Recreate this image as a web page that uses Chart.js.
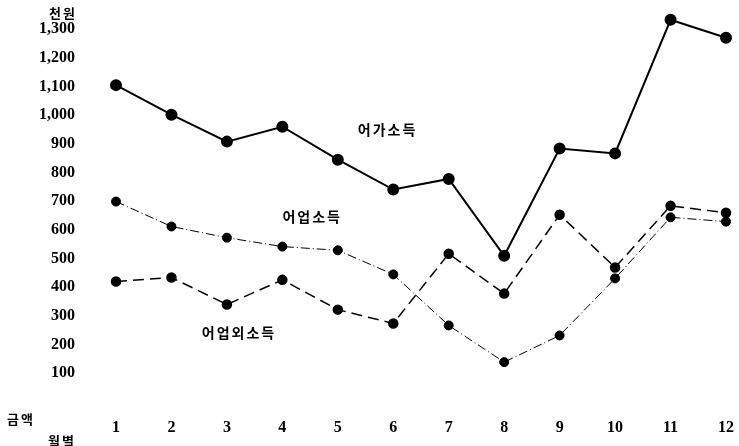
<!DOCTYPE html>
<html lang="ko">
<head>
    <meta charset="UTF-8">
    <title>월별 어가소득</title>
    <style>
        html, body { margin: 0; padding: 0; background: #fff; }
        .chart-container { width: 739px; height: 446px; }
    </style>
</head>
<body>
    <div class="chart-container">
        <canvas id="incomeChart" width="739" height="446"></canvas>
    </div>

    <script src="https://cdn.jsdelivr.net/npm/chart.js@4/dist/chart.umd.min.js"></script>
    <script>
        // 월별 (천원)
        const months = ['1', '2', '3', '4', '5', '6', '7', '8', '9', '10', '11', '12'];
        const fishHouseholdIncome = [1105, 1002, 908, 960, 845, 741, 778, 510, 884, 867, 1333, 1270];
        const fisheryIncome = [699, 612, 573, 542, 529, 445, 267, 139, 232, 431, 644, 629];
        const nonFisheryIncome = [420, 434, 340, 426, 322, 274, 517, 378, 653, 469, 684, 660];
        const yTicks = [100, 200, 300, 400, 500, 600, 700, 800, 900, 1000, 1100, 1200, 1300];

        // 선 옆에 붙는 이름 (x: 월 인덱스, y: 천원)
        const seriesNames = ['어가소득', '어업소득', '어업외소득'];
        const namePositions = [[4.88, 948], [3.52, 645], [2.2, 240]];

        const serif = "'Liberation Serif', 'DejaVu Serif', serif";
        const korean = "'Noto Sans CJK KR', sans-serif";

        // 텍스트 라벨 그리기
        const textPlugin = {
            id: 'textLabels',
            afterDraw(chart) {
                const ctx = chart.ctx;
                const x = chart.scales.x, y = chart.scales.y;
                const left = chart.chartArea.left;
                const bottom = chart.chartArea.bottom;
                ctx.save();
                ctx.fillStyle = '#000';
                ctx.textBaseline = 'middle';

                ctx.font = 'bold 14px ' + korean;
                ctx.letterSpacing = '2px';
                ctx.textAlign = 'center';
                seriesNames.forEach((name, i) => {
                    const p = namePositions[i];
                    ctx.fillText(name, x.getPixelForValue(p[0]) + 1, y.getPixelForValue(p[1]));
                });

                ctx.font = 'bold 13px ' + korean;
                ctx.letterSpacing = '2px';
                ctx.textAlign = 'right';
                ctx.fillText('천원', left - 39, y.getPixelForValue(1358));
                ctx.textAlign = 'left';
                ctx.fillText('금액', 7, bottom + 17);
                ctx.fillText('월별', 48, bottom + 39);
                ctx.restore();
            }
        };

        new Chart(document.getElementById('incomeChart'), {
            type: 'line',
            data: {
                labels: months,
                datasets: [{
                    label: '어가소득',
                    data: fishHouseholdIncome,
                    borderColor: '#000',
                    backgroundColor: '#000',
                    borderWidth: 2,
                    pointRadius: 5,
                    tension: 0
                }, {
                    label: '어업소득',
                    data: fisheryIncome,
                    borderColor: '#000',
                    backgroundColor: '#000',
                    borderWidth: 1,
                    borderDash: [9, 3, 1, 3],
                    pointRadius: 4.5,
                    tension: 0
                }, {
                    label: '어업외소득',
                    data: nonFisheryIncome,
                    borderColor: '#000',
                    backgroundColor: '#000',
                    borderWidth: 1.5,
                    borderDash: [11, 6],
                    pointRadius: 4.5,
                    tension: 0
                }]
            },
            options: {
                responsive: false,
                animation: false,
                layout: { padding: { top: 12, right: 13, bottom: 0, left: 0 } },
                plugins: {
                    legend: { display: false },
                    tooltip: { enabled: false }
                },
                scales: {
                    x: {
                        offset: false,
                        grid: { display: false, drawTicks: false },
                        border: { display: false },
                        ticks: {
                            color: '#000',
                            padding: 16,
                            maxRotation: 0,
                            font: { family: serif, size: 16, weight: 'bold' }
                        },
                        afterFit: scale => {
                            scale.height = 44;
                            scale.paddingLeft = 0;
                            scale.paddingRight = 0;
                        }
                    },
                    y: {
                        min: 0,
                        max: 1360,
                        grid: { display: false, drawTicks: false },
                        border: { display: false },
                        afterBuildTicks: scale => {
                            scale.ticks = yTicks.map(v => ({ value: v }));
                        },
                        ticks: {
                            color: '#000',
                            padding: 41,
                            font: { family: serif, size: 16, weight: 'bold' },
                            callback: v => v.toLocaleString('en-US')
                        },
                        afterFit: scale => {
                            scale.width = 116;
                            scale.paddingTop = 0;
                            scale.paddingBottom = 0;
                        }
                    }
                }
            },
            plugins: [textPlugin]
        });
    </script>
</body>
</html>
